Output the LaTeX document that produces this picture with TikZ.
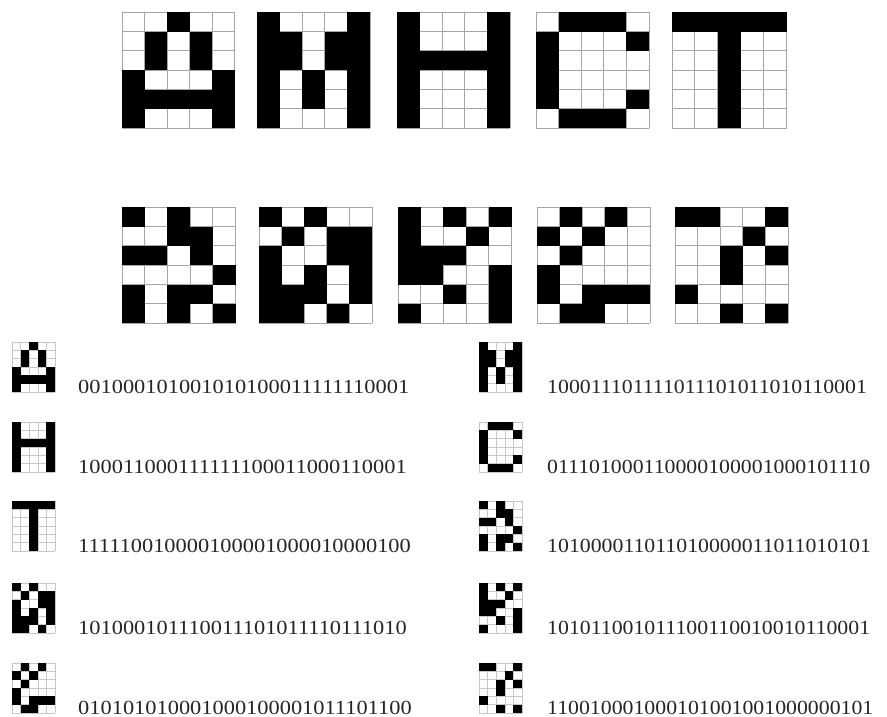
\documentclass[tikz,border=0pt]{standalone}
\usepackage{fontspec}
\newfontfamily\digitsL[FakeStretch=1.12]{Liberation Serif}
\newfontfamily\digitsR[FakeStretch=1.09]{Liberation Serif}
\newcount\bitidx
\def\fillcell{%
  \pgfmathtruncatemacro\bc{mod(\bitidx,5)}%
  \pgfmathtruncatemacro\br{floor(\bitidx/5)}%
  \fill[black] ({\bgx+\bc*\bgw},{\bgy+\br*\bgh}) rectangle ++(\bgw,\bgh);}
\def\dobits#1{\ifx#1\relax\else\ifnum#1=1 \fillcell\fi\global\advance\bitidx by 1 \expandafter\dobits\fi}
% #1 x, #2 y, #3 cell w, #4 cell h, #5 bits, #6 line style
\newcommand\bitgrid[6]{%
  \def\bgx{#1}\def\bgy{#2}\def\bgw{#3}\def\bgh{#4}%
  \fill[white] (#1,#2) rectangle ++({5*#3},{6*#4});
  \foreach \i in {0,...,5} \draw[#6] ({#1+\i*#3},#2) -- ++(0,{6*#4});
  \foreach \j in {0,...,6} \draw[#6] (#1,{#2+\j*#4}) -- ++({5*#3},0);
  \global\bitidx=0 \dobits#5\relax}
\tikzset{
  bigline/.style={draw=black!35, line width=1pt},
  smallline/.style={draw=black!22, line width=0.5pt},
  codeL/.style={anchor=base west, inner sep=0pt, font=\fontsize{20}{24}\selectfont\digitsL, text=black!85},
  codeR/.style={anchor=base west, inner sep=0pt, font=\fontsize{20}{24}\selectfont\digitsR, text=black!85}
}
\begin{document}
\begin{tikzpicture}[x=1pt,y=-1pt]
\useasboundingbox (0,0) rectangle (887,717);
\fill[white] (0,0) rectangle (887,717);
% top row big grids
\bitgrid{122}{12.3}{22.5}{19.33}{001000101001010100011111110001}{bigline}
\bitgrid{257}{12.3}{22.6}{19.33}{100011101111011101011010110001}{bigline}
\bitgrid{397}{12.3}{22.6}{19.33}{100011000111111100011000110001}{bigline}
\bitgrid{536}{12.3}{22.6}{19.33}{011101000110000100001000101110}{bigline}
\bitgrid{672}{12.3}{22.9}{19.33}{111110010000100001000010000100}{bigline}
% bottom row big grids
\bitgrid{122}{207.3}{22.7}{19.33}{101000011011010000011011010101}{bigline}
\bitgrid{259}{207.3}{22.6}{19.33}{101000101110011101011110111010}{bigline}
\bitgrid{398}{207.3}{22.7}{19.33}{101011001011100110010010110001}{bigline}
\bitgrid{537}{207.3}{22.6}{19.33}{010101010001000100001011101100}{bigline}
\bitgrid{675}{207.3}{22.6}{19.33}{110010001000101001001000000101}{bigline}
% small icons, left column
\bitgrid{12}{342}{8.6}{8.33}{001000101001010100011111110001}{smallline}
\bitgrid{12}{422}{8.6}{8.33}{100011000111111100011000110001}{smallline}
\bitgrid{12}{501}{8.6}{8.33}{111110010000100001000010000100}{smallline}
\bitgrid{12}{583}{8.6}{8.33}{101000101110011101011110111010}{smallline}
\bitgrid{12}{663}{8.6}{8.33}{010101010001000100001011101100}{smallline}
% small icons, right column
\bitgrid{479}{342}{8.6}{8.33}{100011101111011101011010110001}{smallline}
\bitgrid{479}{422}{8.6}{8.33}{011101000110000100001000101110}{smallline}
\bitgrid{479}{501}{8.6}{8.33}{101000011011010000011011010101}{smallline}
\bitgrid{479}{583}{8.6}{8.33}{101011001011100110010010110001}{smallline}
\bitgrid{479}{663}{8.6}{8.33}{110010001000101001001000000101}{smallline}
% codes
\node[codeL] (cA) at (78,393) {001000101001010100011111110001};
\node[codeL] (cH) at (78,473) {100011000111111100011000110001};
\node[codeL] (cT) at (78,552) {111110010000100001000010000100};
\node[codeL] (c4) at (78,634) {101000101110011101011110111010};
\node[codeL] (c5) at (78,714) {010101010001000100001011101100};
\node[codeR] (cM) at (547,393) {100011101111011101011010110001};
\node[codeR] (cC) at (547,473) {011101000110000100001000101110};
\node[codeR] (c3) at (547,552) {101000011011010000011011010101};
\node[codeR] (c8) at (547,634) {101011001011100110010010110001};
\node[codeR] (c9) at (547,714) {110010001000101001001000000101};
\end{tikzpicture}
\end{document}
